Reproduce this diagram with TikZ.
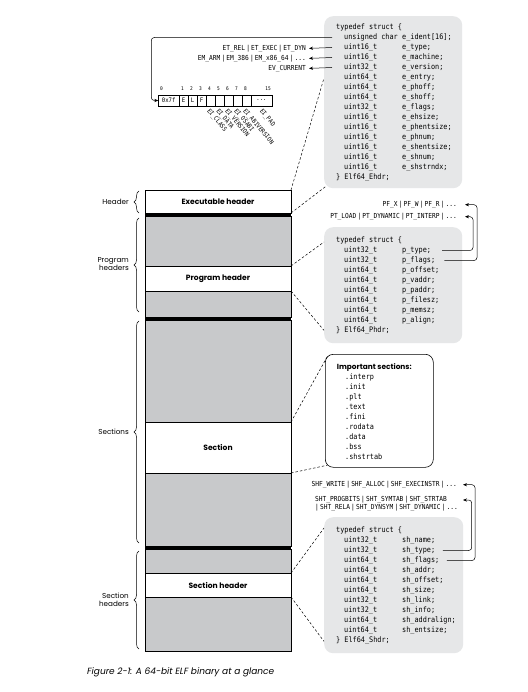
\documentclass[tikz,border=0pt]{standalone}
\usepackage{fontspec}
\setmainfont{Poppins}
\newfontfamily\codefont[FakeStretch=0.9]{DejaVu Sans Mono}
\usetikzlibrary{arrows.meta,decorations.pathreplacing}
\definecolor{colgray}{HTML}{C8C9CB}
\definecolor{panelgray}{HTML}{E6E7E8}
\begin{document}
\begin{tikzpicture}[x=1pt,y=-1pt,
  code/.style={font=\codefont\fontsize{7.6}{10}\selectfont, inner sep=0pt, anchor=base west, text height=5.5pt, text depth=1.5pt},
  enumtxt/.style={font=\codefont\fontsize{6.9}{8}\selectfont, inner sep=0pt, anchor=base east, text height=5pt, text depth=1.4pt},
  panel/.style={fill=panelgray, rounded corners=9pt, inner sep=0pt, anchor=north west},
  blk/.style={draw=black, line width=0.5pt, anchor=north west, minimum width=146pt, inner sep=0pt, outer sep=0pt, font=\fontsize{7.6}{9}\selectfont\bfseries},
  bar/.style={fill=black, anchor=north west, minimum width=146pt, minimum height=3.2pt, inner sep=0pt, outer sep=0pt},
  dashline/.style={dashed, dash pattern=on 2.5pt off 2pt, line width=0.5pt},
  arr/.style={-{Stealth[length=4pt,width=3.2pt]}, line width=0.5pt, rounded corners=3pt},
  brc/.style={decorate, decoration={brace, amplitude=5pt}, line width=0.5pt},
  side/.style={font=\fontsize{7.2}{8.5}\selectfont, anchor=east, align=right, inner sep=0pt},
  cell/.style={draw, line width=0.4pt, anchor=north west, minimum height=11pt, inner sep=0pt, outer sep=0pt, font=\codefont\fontsize{6.2}{7}\selectfont},
  idx/.style={font=\codefont\fontsize{5}{6}\selectfont, inner sep=0pt, anchor=base west},
  eilab/.style={font=\codefont\fontsize{6.2}{7}\selectfont, inner sep=0pt, anchor=north west, rotate=-50},
]
\fill[white] (0,0) rectangle (527,692);
\useasboundingbox (0,0) rectangle (527,692);

% ---------- panels ----------
\node[panel, minimum width=138pt, minimum height=172pt] (ehbox) at (324,16) {};
\node[panel, minimum width=138pt, minimum height=116pt] (phbox) at (324,227) {};
\node[panel, minimum width=139pt, minimum height=136pt] (shbox) at (324,517) {};
\node[draw, line width=0.6pt, fill=white, rounded corners=8pt, anchor=north west, minimum width=108pt, minimum height=113pt, inner sep=0pt] (impbox) at (325,354) {};

% ---------- Elf64_Ehdr ----------
\node[code] (eh0) at (336,29.5) {typedef struct \{};
\foreach \ty/\nm [count=\i] in {
  unsigned char/{e\_ident[16];},
  uint16\_t/e\_type;,
  uint16\_t/e\_machine;,
  uint32\_t/e\_version;,
  uint64\_t/e\_entry;,
  uint64\_t/e\_phoff;,
  uint64\_t/e\_shoff;,
  uint32\_t/e\_flags;,
  uint16\_t/e\_ehsize;,
  uint16\_t/e\_phentsize;,
  uint16\_t/e\_phnum;,
  uint16\_t/e\_shentsize;,
  uint16\_t/e\_shnum;,
  uint16\_t/e\_shstrndx;}{
  \node[code] (ehT\i) at (344,{29.5+10*\i}) {\ty};
  \node[code] (ehN\i) at (402,{29.5+10*\i}) {\nm};
}
\node[code] (eh15) at (336,179.5) {\} Elf64\_Ehdr;};

% ---------- Elf64_Phdr ----------
\node[code] (ph0) at (336,242.5) {typedef struct \{};
\foreach \ty/\nm [count=\i] in {
  uint32\_t/p\_type;,
  uint32\_t/p\_flags;,
  uint64\_t/p\_offset;,
  uint64\_t/p\_vaddr;,
  uint64\_t/p\_paddr;,
  uint64\_t/p\_filesz;,
  uint64\_t/p\_memsz;,
  uint64\_t/p\_align;}{
  \node[code] (phT\i) at (344,{242.5+10*\i}) {\ty};
  \node[code] (phN\i) at (402,{242.5+10*\i}) {\nm};
}
\node[code] (ph9) at (336,332.5) {\} Elf64\_Phdr;};

% ---------- Elf64_Shdr ----------
\node[code] (sh0) at (336,532.5) {typedef struct \{};
\foreach \ty/\nm [count=\i] in {
  uint32\_t/sh\_name;,
  uint32\_t/sh\_type;,
  uint64\_t/sh\_flags;,
  uint64\_t/sh\_addr;,
  uint64\_t/sh\_offset;,
  uint64\_t/sh\_size;,
  uint32\_t/sh\_link;,
  uint32\_t/sh\_info;,
  uint64\_t/sh\_addralign;,
  uint64\_t/sh\_entsize;}{
  \node[code] (shT\i) at (344,{532.5+10*\i}) {\ty};
  \node[code] (shN\i) at (402,{532.5+10*\i}) {\nm};
}
\node[code] (sh11) at (336,642.5) {\} Elf64\_Shdr;};

% ---------- Important sections ----------
\node[font=\fontsize{7.4}{9}\selectfont\bfseries, anchor=base west, inner sep=0pt] (imptitle) at (336.7,369.2) {Important sections:};
\foreach \s [count=\i from 0] in {.interp,.init,.plt,.text,.fini,.rodata,.data,.bss,.shstrtab}{
  \node[code] (imp\i) at (345,{379.8+9.92*\i}) {\s};
}

% ---------- enum values ----------
\node[enumtxt] (et) at (306,50.2) {ET\_REL\,|\,ET\_EXEC\,|\,ET\_DYN};
\node[enumtxt] (em) at (306,60.2) {EM\_ARM\,|\,EM\_386\,|\,EM\_x86\_64\,|\,...};
\node[enumtxt] (ev) at (306,70.2) {EV\_CURRENT};
\node[enumtxt] (pf) at (457,206.5) {PF\_X\,|\,PF\_W\,|\,PF\_R\,|\,...};
\node[enumtxt] (pt) at (457,218.5) {PT\_LOAD\,|\,PT\_DYNAMIC\,|\,PT\_INTERP\,|\,...};
\node[enumtxt] (shf) at (457,486.5) {SHF\_WRITE\,|\,SHF\_ALLOC\,|\,SHF\_EXECINSTR\,|\,...};
\node[enumtxt, anchor=base west] (sht1) at (315,501.8) {SHT\_PROGBITS\,|\,SHT\_SYMTAB\,|\,SHT\_STRTAB};
\node[enumtxt, anchor=base west] (sht2) at (315,509.8) {|\,SHT\_RELA\,|\,SHT\_DYNSYM\,|\,SHT\_DYNAMIC\,|\,...};

% ---------- e_ident bytes ----------
\node[cell, minimum width=20.7pt] (b0) at (158.3,95) {0x7f};
\node[cell, minimum width=9pt] (b1) at (179,95) {E};
\node[cell, minimum width=9pt] (b2) at (188,95) {L};
\node[cell, minimum width=9pt] (b3) at (197,95) {F};
\foreach \i in {4,...,8}{
  \node[cell, minimum width=9pt] (b\i) at ({206+9*(\i-4)},95) {};
}
\node[cell, minimum width=21pt] (b9) at (251,95) {...};
\node[idx] (n0) at (160,91) {0};
\foreach \i in {1,...,8}{
  \node[idx] (n\i) at ({180.8+9*(\i-1)},91) {\i};
}
\node[idx, anchor=base east] (n15) at (271,91) {15};
\node[eilab] (ei4) at (210.5,108) {EI\_CLASS};
\node[eilab] (ei5) at (219.5,108) {EI\_DATA};
\node[eilab] (ei6) at (228.5,108) {EI\_VERSION};
\node[eilab] (ei7) at (237.5,108) {EI\_OSABI};
\node[eilab] (ei8) at (246.5,108) {EI\_ABIVERSION};
\node[eilab] (ei9) at (263,108) {EI\_PAD};

% ---------- arrows ----------
\draw[arr] ([xshift=-12pt]ehT1.west) -| ([xshift=-7pt]b0.west) -- (b0.west);
\draw[arr] ([xshift=-12pt]ehT2.west) -- ([xshift=3pt]et.east);
\draw[arr] ([xshift=-12pt]ehT3.west) -- ([xshift=3pt]em.east);
\draw[arr] ([xshift=-12pt]ehT4.west) -- ([xshift=3pt]ev.east);

\coordinate (colA) at (473,0);
\coordinate (colB) at (477,0);
\draw[arr] ([xshift=11pt]phN1.east) -| (colA |- pt.east) -- ([xshift=8pt]pt.east);
\draw[arr] ([xshift=9pt]phN2.east) -| (colB |- pf.east) -- ([xshift=8pt]pf.east);

\coordinate (colC) at (471.7,0);
\coordinate (colD) at (475,0);
\coordinate (tipS) at (463,0);
\draw[arr] ([xshift=7.5pt]shN2.east) -| (colC |- sht1.east) -- (tipS |- sht1.east);
\draw[arr] ([xshift=7.5pt]shN3.east) -| (colD |- shf.east) -- ([xshift=6pt]shf.east);

% ---------- main column ----------
\node[blk, fill=white, minimum height=23pt] (exh) at (145,190) {Executable header};
\node[bar] (bar1) at (145,213) {};
\node[blk, fill=colgray, minimum height=50pt] (pgA) at (145,216) {};
\node[blk, fill=white, minimum height=25pt] (phr) at (145,266) {Program header};
\node[blk, fill=colgray, minimum height=26pt] (pgB) at (145,291) {};
\node[bar] (bar2) at (145,317) {};
\node[blk, fill=colgray, minimum height=102pt] (secA) at (145,320) {};
\node[blk, fill=white, minimum height=51pt] (sec) at (145,422) {Section};
\node[blk, fill=colgray, minimum height=73pt] (secB) at (145,473) {};
\node[bar] (bar3) at (145,546) {};
\node[blk, fill=colgray, minimum height=24pt] (shA) at (145,549) {};
\node[blk, fill=white, minimum height=24pt] (shr) at (145,573) {Section header};
\node[blk, fill=colgray, minimum height=54pt] (shB) at (145,597) {};

% ---------- braces and side labels ----------
\draw[brc] (139,213) -- (139,191);
\draw[brc] (139,312) -- (139,218);
\draw[brc] (139,543) -- (139,321);
\draw[brc] (139,649) -- (139,551);
\node[side] (lhead) at (129,202) {Header};
\node[side] (lprog) at (129,264) {Program\\headers};
\node[side] (lsec) at (129,432) {Sections};
\node[side] (lshd) at (129,600) {Section\\headers};

% ---------- dashed connectors ----------
\draw[dashline] (exh.north east) -- ([yshift=-62pt]ehbox.north west);
\draw[dashline] (exh.south east) -- ([xshift=2.6pt,yshift=2.6pt]ehbox.south west);
\draw[dashline] (phr.north east) -- ([yshift=-15pt]phbox.north west);
\draw[dashline] (phr.south east) -- ([yshift=13pt]phbox.south west);
\draw[dashline] (sec.north east) -- ([xshift=2.4pt,yshift=-2.4pt]impbox.north west);
\draw[dashline] (sec.south east) -- ([xshift=2.4pt,yshift=2.4pt]impbox.south west);
\draw[dashline] (shr.north east) -- ([yshift=-11pt]shbox.north west);
\draw[dashline] (shr.south east) -- ([yshift=12pt]shbox.south west);

% ---------- caption ----------
\node[font=\fontsize{9}{11}\selectfont\itshape, anchor=west, inner sep=0pt] (cap) at (87,672) {Figure 2-1: A 64-bit ELF binary at a glance};
\end{tikzpicture}
\end{document}
